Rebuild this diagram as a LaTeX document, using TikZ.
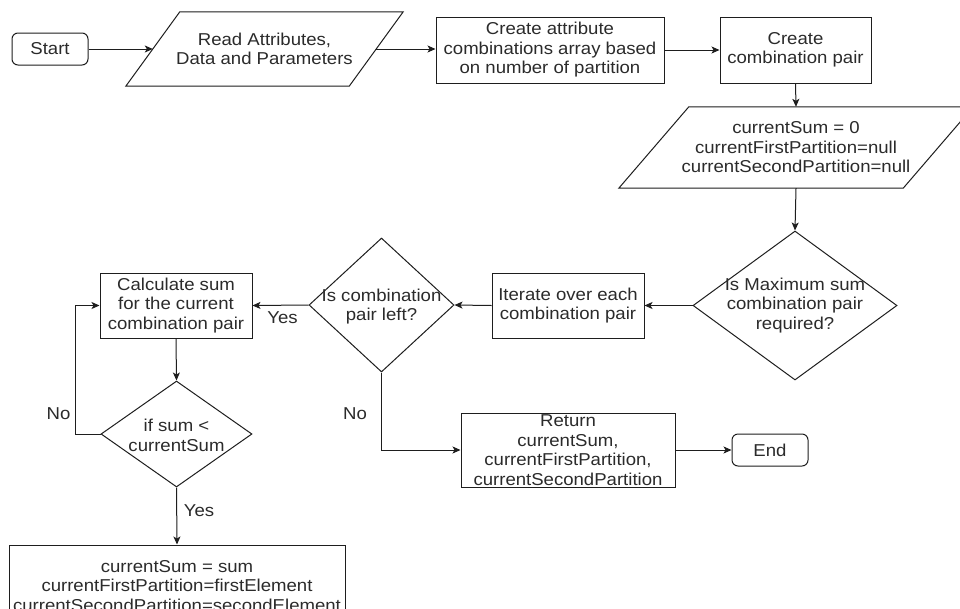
\documentclass[tikz,border=0pt]{standalone}
\usepackage{fontspec}
\setmainfont[FakeStretch=1.08]{Liberation Sans}
\usetikzlibrary{arrows.meta,shapes.geometric,calc}
\definecolor{ink}{HTML}{2B2B2B}
\definecolor{stroke}{HTML}{1E1E1E}
\tikzset{
  txt/.style={font=\fontsize{17.2pt}{19.5pt}\selectfont, text=ink, align=center},
  line/.style={draw=stroke, line width=1pt},
  arr/.style={line, -{Stealth[length=8pt,width=7pt,inset=2pt]}},
  box/.style={txt, line, rectangle, inner sep=0pt},
  term/.style={box, rounded corners=6pt},
  iobox/.style={txt, rectangle, inner sep=0pt},
  decision/.style={line, diamond, inner sep=0pt},
  lab/.style={txt, inner sep=0pt},
}
\begin{document}
\begin{tikzpicture}[x=1pt, y=-1pt]
\useasboundingbox (0,0) rectangle (960,608);
\fill[white] (0,0) rectangle (960,608);
\clip (0,0) rectangle (960,608);

% top row
\node[term, minimum width=76pt, minimum height=32pt] (start) at (50,49) {Start};
\node[iobox, minimum width=223pt, minimum height=74pt] (read) at (264.5,49) {Read Attributes,\\Data and Parameters};
\draw[line] ($(read.south west)+(-27,0)$) -- ($(read.north west)+(27,0)$)
  -- ($(read.north east)+(27,0)$) -- ($(read.south east)+(-27,0)$) -- cycle;
\node[box, minimum width=228pt, minimum height=66pt] (attr) at (550,50)
  {Create attribute\\combinations array based\\on number of partition};
\node[box, minimum width=151pt, minimum height=66pt] (pairbox) at (795.5,50)
  {Create\\combination pair};

% initialisation
\node[iobox, minimum width=284pt, minimum height=81pt] (init) at (796,147.5)
  {currentSum = 0\\currentFirstPartition=null\\currentSecondPartition=null};
\draw[line] ($(init.south west)+(-35,0)$) -- ($(init.north west)+(35,0)$)
  -- ($(init.north east)+(35,0)$) -- ($(init.south east)+(-35,0)$) -- cycle;

% middle row
\node[decision, minimum width=204pt, minimum height=149pt,
  label={[txt]center:{Is Maximum sum\\combination pair\\required?}}] (maxq) at (795,305.5) {};
\node[box, minimum width=152pt, minimum height=65pt] (iter) at (568,305.5)
  {Iterate over each\\combination pair};
\node[decision, minimum width=145pt, minimum height=134pt,
  label={[txt, yshift=-1.5pt]center:{Is combination\\pair left?}}] (combq) at (381.5,305) {};
\node[box, minimum width=152pt, minimum height=65pt] (calc) at (176,305.5)
  {Calculate sum\\for the current\\combination pair};

% comparison and update
\node[decision, minimum width=151pt, minimum height=106pt,
  label={[txt, yshift=-1.5pt]center:{if sum <\\currentSum}}] (ifq) at (176.5,434) {};
\node[box, minimum width=336pt, minimum height=82pt] (upd) at (177,586)
  {currentSum = sum\\currentFirstPartition=firstElement\\currentSecondPartition=secondElement};

% result
\node[box, minimum width=214pt, minimum height=74pt] (ret) at (568,450)
  {Return\\currentSum,\\currentFirstPartition,\\currentSecondPartition};
\node[term, minimum width=76pt, minimum height=32pt] (endn) at (770,450) {End};

% connectors
\draw[arr] (start.east) -- (read.west);
\draw[arr] (read.east) -- (read.east -| attr.west);
\draw[arr] (attr.east) -- (pairbox.west);
\draw[arr] (pairbox.south) -- (init.north);
\draw[arr] (init.south) -- (maxq.north);
\draw[arr] (maxq.west) -- (iter.east);
\draw[arr] (iter.west) -- (combq.east);
\draw[arr] (combq.west) -- (calc.east);
\draw[arr] (calc.south) -- (ifq.north);
\draw[arr] (ifq.south) -- (upd.north);
\draw[arr] (ifq.west) -- ++(-25,0) |- (calc.west);
\draw[arr] (combq.south) |- (ret.west);
\draw[arr] (ret.east) -- (endn.west);

% branch labels
\node[lab] (yesA) at (282.5,318) {Yes};
\node[lab] (noA) at (58.5,414) {No};
\node[lab] (noB) at (355,414) {No};
\node[lab] (yesB) at (199,511) {Yes};
\end{tikzpicture}
\end{document}
